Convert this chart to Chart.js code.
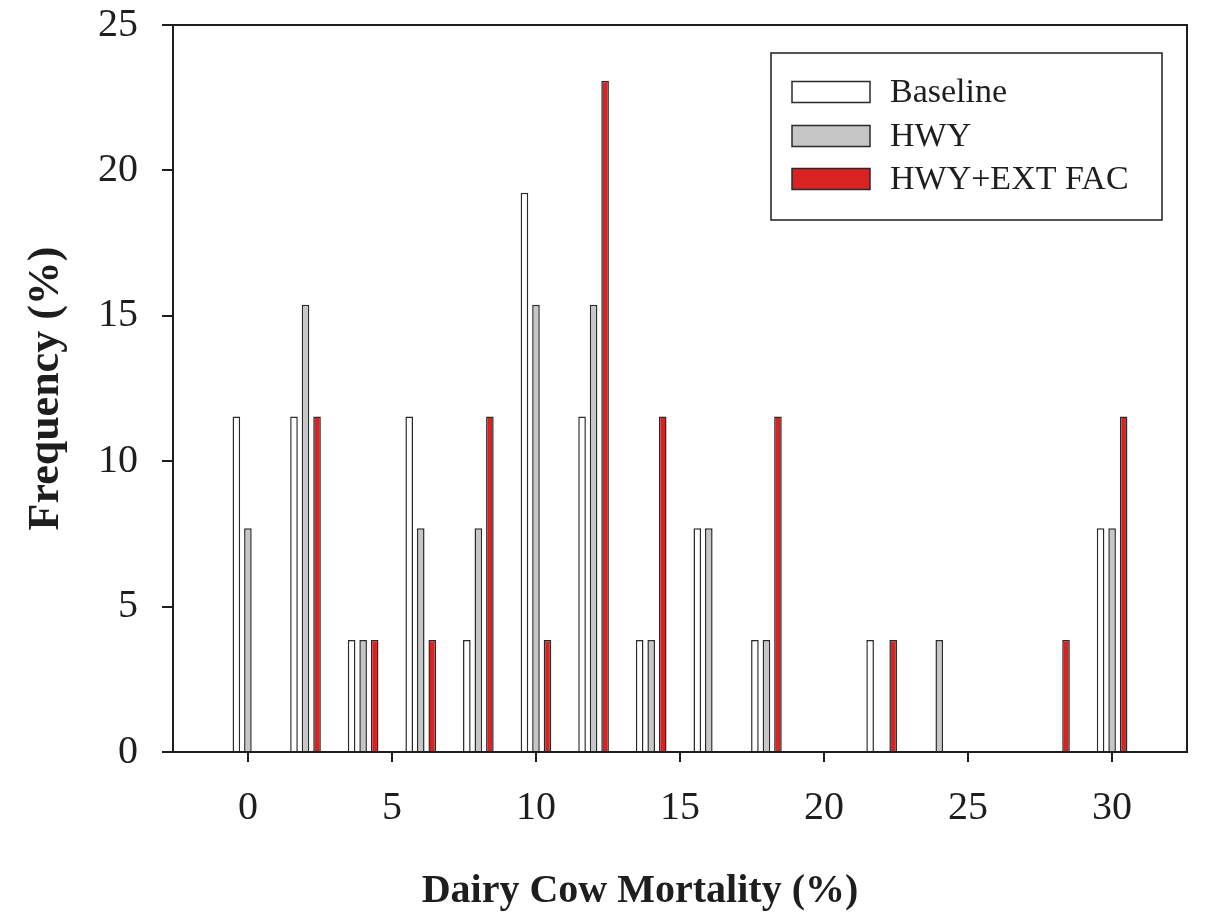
<!DOCTYPE html>
<html>
<head>
<meta charset="utf-8">
<script src="https://cdn.jsdelivr.net/npm/chart.js@4/dist/chart.umd.min.js"></script>
<style>
  html, body { margin: 0; padding: 0; background: #ffffff; }
  #wrap { width: 1205px; height: 915px; }
</style>
</head>
<body>
<div id="wrap"><canvas id="c" width="1205" height="915"></canvas></div>
<script>
// Dairy cow mortality classes (%)
const mortality = [0, 2, 4, 6, 8, 10, 12, 14, 16, 18, 20, 22, 24, 26, 28, 30];
// Frequency (%) per scenario
const baseline = [11.54, 11.54, 3.85, 11.54, 3.85, 19.23, 11.54, 3.85, 7.69, 3.85, null, 3.85, null, null, null, 7.69];
const hwy      = [7.69, 15.38, 3.85, 7.69, 7.69, 15.38, 15.38, 3.85, 7.69, 3.85, null, null, 3.85, null, null, 7.69];
const hwyExt   = [null, 11.54, 3.85, 3.85, 11.54, 3.85, 23.08, 11.54, null, 11.54, null, 3.85, null, null, 3.85, 11.54];
const seriesLabels = ['Baseline', 'HWY', 'HWY+EXT FAC'];
const xTicks = [0, 5, 10, 15, 20, 25, 30];
const yTicks = [0, 5, 10, 15, 20, 25];
const xTitle = 'Dairy Cow Mortality (%)';
const yTitle = 'Frequency (%)';

const fills = ['#ffffff', '#c6c6c6', '#d92323'];
const SERIF = '"Liberation Serif", "Times New Roman", serif';
const INK = '#1e1e1e';

function toPoints(arr) { return mortality.map((m, i) => ({ x: m, y: arr[i] })); }

const datasets = [baseline, hwy, hwyExt].map((arr, i) => ({
  label: seriesLabels[i],
  data: toPoints(arr),
  backgroundColor: fills[i],
  borderColor: '#2a2a2a',
  borderWidth: 1.5,
  borderSkipped: 'start',
  categoryPercentage: 0.6,
  barPercentage: 0.66
}));

const frameAndLegend = {
  id: 'frameAndLegend',
  afterDraw(chart) {
    const ctx = chart.ctx;
    const a = chart.chartArea;
    ctx.save();
    ctx.strokeStyle = INK;
    ctx.lineWidth = 2;
    ctx.beginPath();
    ctx.moveTo(a.left, a.top);
    ctx.lineTo(a.right, a.top);
    ctx.lineTo(a.right, a.bottom);
    ctx.stroke();

    // x-axis title (offset left of plot centre as in the original)
    ctx.font = 'bold 40px ' + SERIF;
    ctx.fillStyle = INK;
    ctx.textAlign = 'center';
    ctx.textBaseline = 'alphabetic';
    ctx.fillText(xTitle, 640, 902);

    // legend box
    const bx = 771, by = 53, bw = 391, bh = 167;
    ctx.fillStyle = '#ffffff';
    ctx.fillRect(bx, by, bw, bh);
    ctx.lineWidth = 1.5;
    ctx.strokeStyle = INK;
    ctx.strokeRect(bx, by, bw, bh);
    const rows = [92, 136, 179];
    ctx.font = '34px ' + SERIF;
    ctx.textBaseline = 'middle';
    ctx.textAlign = 'left';
    chart.data.datasets.forEach((ds, i) => {
      const y = rows[i];
      ctx.fillStyle = ds.backgroundColor;
      ctx.fillRect(792, y - 10.5, 78, 21);
      ctx.lineWidth = 1.5;
      ctx.strokeStyle = '#2a2a2a';
      ctx.strokeRect(792, y - 10.5, 78, 21);
      ctx.fillStyle = INK;
      ctx.fillText(ds.label, 890, y + 1);
    });
    ctx.restore();
  }
};

new Chart(document.getElementById('c'), {
  type: 'bar',
  data: { datasets },
  options: {
    responsive: false,
    animation: false,
    layout: { padding: { top: 25, right: 18, bottom: 0, left: 0 } },
    plugins: { legend: { display: false }, tooltip: { enabled: false } },
    scales: {
      x: {
        type: 'linear',
        offset: false,
        min: -2.6,
        max: 32.6,
        afterBuildTicks(axis) { axis.ticks = xTicks.map(v => ({ value: v })); },
        afterFit(axis) { axis.height = 163; axis.paddingLeft = 0; axis.paddingRight = 0; },
        grid: { display: true, offset: false, drawOnChartArea: false, drawTicks: true, tickLength: 10, color: INK, lineWidth: 2 },
        border: { display: true, color: INK, width: 2 },
        ticks: { color: INK, font: { family: SERIF, size: 40 }, padding: 22, maxRotation: 0 },
        title: { display: false, text: xTitle }
      },
      y: {
        min: 0,
        max: 25,
        afterBuildTicks(axis) { axis.ticks = yTicks.map(v => ({ value: v })); },
        afterFit(axis) { axis.width = 173; axis.paddingTop = 0; axis.paddingBottom = 0; },
        grid: { display: true, drawOnChartArea: false, drawTicks: true, tickLength: 11, color: INK, lineWidth: 2 },
        border: { display: true, color: INK, width: 2 },
        ticks: { color: INK, font: { family: SERIF, size: 40 }, padding: 24 },
        title: { display: true, text: yTitle, color: INK,
                 font: { family: SERIF, size: 44, weight: 'bold' }, padding: { top: 20, bottom: 0 } }
      }
    }
  },
  plugins: [frameAndLegend]
});
</script>
</body>
</html>
